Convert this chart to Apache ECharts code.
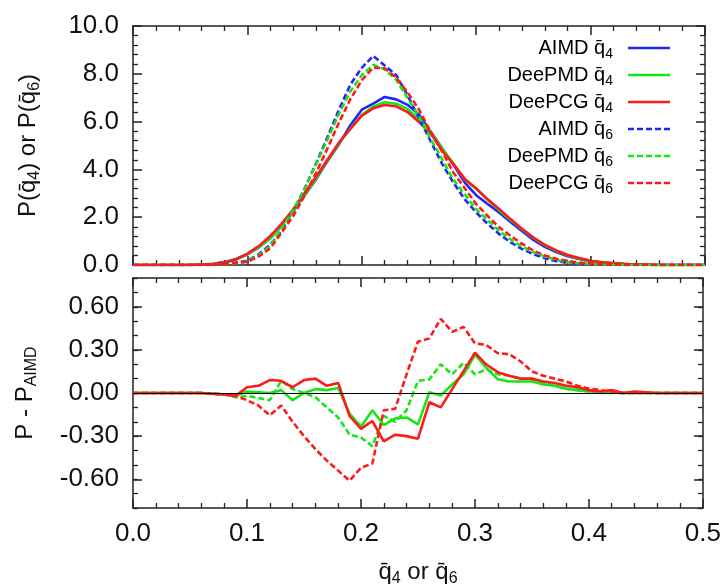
<!DOCTYPE html>
<html>
<head>
<meta charset="utf-8">
<script src="https://cdn.jsdelivr.net/npm/echarts@6/dist/echarts.min.js"></script>
<style>html,body{margin:0;padding:0;background:#fff;}#c{width:724px;height:588px;}</style>
</head>
<body>
<div id="c"></div>
<script>
// ---- data ----
const q = [0.00,0.01,0.02,0.03,0.04,0.05,0.06,0.07,0.08,0.09,0.10,0.11,0.12,0.13,0.14,0.15,0.16,0.17,0.18,0.19,0.20,0.21,0.22,0.23,0.24,0.25,0.26,0.27,0.28,0.29,0.30,0.31,0.32,0.33,0.34,0.35,0.36,0.37,0.38,0.39,0.40,0.41,0.42,0.43,0.44,0.45,0.46,0.47,0.48,0.49,0.50];

const aimdQ4   = [0,0,0,0,0,0,0.02,0.05,0.12,0.25,0.44,0.74,1.12,1.65,2.28,2.92,3.58,4.35,5.05,5.85,6.5,6.75,7.03,6.93,6.7,6.3,5.6,4.9,4.2,3.45,2.92,2.55,2.2,1.8,1.42,1.05,0.76,0.54,0.37,0.25,0.16,0.10,0.06,0.04,0.02,0.01,0,0,0,0,0];
const deepmdQ4 = [0,0,0,0,0,0,0.02,0.045,0.11,0.23,0.45,0.745,1.12,1.67,2.23,2.92,3.61,4.37,5.085,5.71,6.27,6.63,6.81,6.75,6.53,6.08,5.605,4.88,4.26,3.58,3.19,2.725,2.295,1.88,1.50,1.13,0.82,0.59,0.40,0.27,0.17,0.11,0.065,0.04,0.02,0.01,0,0,0,0,0];
const deepcgQ4 = [0,0,0,0,0,0,0.02,0.045,0.11,0.23,0.48,0.79,1.21,1.735,2.32,3.01,3.68,4.40,5.12,5.69,6.25,6.555,6.694,6.64,6.40,5.982,5.536,4.80,4.227,3.602,3.20,2.748,2.345,1.92,1.52,1.15,0.84,0.61,0.42,0.29,0.18,0.11,0.08,0.04,0.03,0.015,0,0,0,0,0];
const aimdQ6   = [0,0,0,0,0,0,0,0.01,0.04,0.10,0.18,0.45,0.85,1.45,2.25,3.2,4.25,5.35,6.5,7.55,8.25,8.75,8.35,7.95,7.1,6.15,5.2,4.25,3.45,2.75,2.2,1.72,1.3,0.95,0.67,0.45,0.28,0.16,0.09,0.05,0.03,0.01,0,0,0,0,0,0,0,0,0];
const deepmdQ6 = [0,0,0,0,0,0,0,0.005,0.03,0.07,0.16,0.415,0.80,1.534,2.277,3.20,4.22,5.25,6.33,7.26,7.94,8.38,8.19,7.75,6.98,6.234,5.295,4.45,3.58,2.96,2.33,1.885,1.43,1.07,0.77,0.54,0.35,0.21,0.12,0.07,0.04,0.01,0,0,0,0,0,0,0,0,0];
const deepcgQ6 = [0,0,0,0,0,0,0,0.005,0.03,0.08,0.13,0.363,0.695,1.363,2.05,2.90,3.86,4.88,5.96,6.94,7.73,8.26,8.23,7.84,7.23,6.507,5.58,4.766,3.875,3.21,2.545,2.054,1.577,1.22,0.89,0.60,0.40,0.26,0.17,0.10,0.06,0.03,0.01,0,0,0,0,0,0,0,0];

const diffDeepmdQ4 = [0,0,0,0,0,0,0,-0.005,-0.01,-0.02,0.01,0.005,0.0,0.02,-0.05,0.0,0.027,0.02,0.035,-0.143,-0.234,-0.12,-0.223,-0.177,-0.17,-0.218,0.005,-0.018,0.06,0.13,0.266,0.175,0.095,0.08,0.08,0.08,0.06,0.05,0.03,0.02,0.01,0.01,0.005,0,0,0,0,0,0,0,0];
const diffDeepcgQ4 = [0,0,0,0,0,0,0,-0.005,-0.01,-0.02,0.04,0.05,0.09,0.085,0.04,0.09,0.10,0.05,0.07,-0.16,-0.25,-0.195,-0.336,-0.29,-0.30,-0.318,-0.064,-0.10,0.027,0.152,0.28,0.198,0.145,0.12,0.10,0.10,0.08,0.07,0.05,0.04,0.02,0.01,0.02,0.0,0.01,0.005,0,0,0,0,0];
const diffDeepmdQ6 = [0,0,0,0,0,0,0,-0.005,-0.01,-0.03,-0.02,-0.035,-0.05,0.084,0.027,0.0,-0.03,-0.1,-0.17,-0.29,-0.31,-0.37,-0.16,-0.2,-0.12,0.084,0.095,0.2,0.13,0.21,0.13,0.165,0.13,0.12,0.1,0.09,0.07,0.05,0.03,0.02,0.01,0,0,0,0,0,0,0,0,0,0];
const diffDeepcgQ6 = [0,0,0,0,0,0,0,-0.005,-0.01,-0.02,-0.05,-0.087,-0.155,-0.087,-0.2,-0.30,-0.39,-0.47,-0.54,-0.61,-0.52,-0.49,-0.12,-0.11,0.13,0.357,0.38,0.516,0.425,0.46,0.345,0.334,0.277,0.27,0.22,0.15,0.12,0.10,0.08,0.05,0.03,0.02,0.01,0,0,0,0,0,0,0,0];

const topTicks = [0, 10, 2];            // min, max, interval
const bottomLabels = [-0.6, -0.3, 0, 0.3, 0.6];
const bottomRange = [-0.8, 0.8, 0.1];
const legendNames = ['AIMD q\u0304', 'DeePMD q\u0304', 'DeePCG q\u0304', 'AIMD q\u0304', 'DeePMD q\u0304', 'DeePCG q\u0304'];
const legendSubs = ['4','4','4','6','6','6'];

// ---- styles ----
const FONT = '"Liberation Sans", Arial, Helvetica, sans-serif';
const BLUE = '#2323ff', GREEN = '#16e616', RED = '#ff1a1a';
const AX = '#222';
const DASH = [6, 3];
const LW = 2.6;

function rich(main, sub, lh) {
  return {
    n: {fontSize: main, fontFamily: FONT, color: '#111', lineHeight: lh},
    s: {fontSize: sub, fontFamily: FONT, color: '#111', verticalAlign: 'bottom', lineHeight: sub}
  };
}

function xAx(grid, pos, labels, extra) {
  return Object.assign({
    type: 'value', gridIndex: grid, position: pos, min: 0, max: 0.5, interval: 0.1,
    axisLine: {show: true, onZero: false, lineStyle: {color: AX, width: 1.5}},
    axisTick: {show: true, inside: true, length: 9, lineStyle: {color: AX, width: 1.5}},
    minorTick: {show: true, splitNumber: 5, length: 5, lineStyle: {color: AX, width: 1.3}},
    axisLabel: labels ? {show: true, formatter: v => v.toFixed(1), fontSize: 26, fontFamily: FONT, color: '#111', margin: 13} : {show: false},
    splitLine: {show: false}, minorSplitLine: {show: false}
  }, extra || {});
}

const yAxes = [
  {
    type: 'value', gridIndex: 0, position: 'left', min: topTicks[0], max: topTicks[1], interval: topTicks[2],
    axisLine: {show: true, onZero: false, lineStyle: {color: AX, width: 1.5}},
    axisTick: {show: true, inside: true, length: 9, lineStyle: {color: AX, width: 1.5}},
    minorTick: {show: true, splitNumber: 5, length: 5, lineStyle: {color: AX, width: 1.3}},
    axisLabel: {show: true, formatter: v => v.toFixed(1), fontSize: 26, fontFamily: FONT, color: '#111', margin: 14},
    splitLine: {show: false},
    name: '{n|P(q\u0304}{s|4}{n|) or P(q\u0304}{s|6}{n|)}',
    nameLocation: 'middle', nameGap: 90,
    nameTextStyle: {rich: rich(24, 16, 30)}
  },
  {
    type: 'value', gridIndex: 0, position: 'right', min: topTicks[0], max: topTicks[1], interval: topTicks[2],
    axisLine: {show: true, onZero: false, lineStyle: {color: AX, width: 1.5}},
    axisTick: {show: true, inside: true, length: 9, lineStyle: {color: AX, width: 1.5}},
    minorTick: {show: true, splitNumber: 5, length: 5, lineStyle: {color: AX, width: 1.3}},
    axisLabel: {show: false}, splitLine: {show: false}
  },
  {
    type: 'value', gridIndex: 1, position: 'left', min: bottomRange[0], max: bottomRange[1], interval: bottomRange[2],
    axisLine: {show: true, onZero: false, lineStyle: {color: AX, width: 1.5}},
    axisTick: {show: true, inside: true, length: 9, customValues: bottomLabels, lineStyle: {color: AX, width: 1.5}},
    axisLabel: {show: true, customValues: bottomLabels, formatter: v => v.toFixed(2), fontSize: 26, fontFamily: FONT, color: '#111', margin: 14},
    splitLine: {show: false},
    name: '{n|P - P}{s|AIMD}',
    nameLocation: 'middle', nameGap: 93,
    nameTextStyle: {rich: rich(24, 16, 30)}
  },
  {
    type: 'value', gridIndex: 1, position: 'left', min: bottomRange[0], max: bottomRange[1], interval: bottomRange[2],
    axisLine: {show: false, onZero: false},
    axisTick: {show: true, inside: true, length: 5, lineStyle: {color: AX, width: 1.3}},
    axisLabel: {show: false}, splitLine: {show: false}
  },
  {
    type: 'value', gridIndex: 1, position: 'right', min: bottomRange[0], max: bottomRange[1], interval: bottomRange[2],
    axisLine: {show: true, onZero: false, lineStyle: {color: AX, width: 1.5}},
    axisTick: {show: true, inside: true, length: 9, customValues: bottomLabels, lineStyle: {color: AX, width: 1.5}},
    axisLabel: {show: false}, splitLine: {show: false}
  },
  {
    type: 'value', gridIndex: 1, position: 'right', min: bottomRange[0], max: bottomRange[1], interval: bottomRange[2],
    axisLine: {show: false, onZero: false},
    axisTick: {show: true, inside: true, length: 5, lineStyle: {color: AX, width: 1.3}},
    axisLabel: {show: false}, splitLine: {show: false}
  }
];

const xAxes = [
  xAx(0, 'bottom', false),
  xAx(0, 'top', false),
  xAx(1, 'bottom', true, {
    name: '{n|q\u0304}{s|4}{n| or q\u0304}{s|6}',
    nameLocation: 'middle', nameGap: 49,
    nameTextStyle: {rich: rich(24, 16, 30)}
  }),
  xAx(1, 'top', false)
];

function pts(arr) { return q.map((x, i) => [x, arr[i]]); }
function ser(name, arr, color, dashed, xi, yi, extra) {
  return Object.assign({
    name: name, type: 'line', xAxisIndex: xi, yAxisIndex: yi, data: pts(arr),
    symbol: 'none', showSymbol: false, smooth: false,
    lineStyle: {color: color, width: LW, type: dashed ? DASH : 'solid'},
    itemStyle: {color: color}
  }, extra || {});
}

const series = [
  ser('AIMD q4', aimdQ4, BLUE, false, 0, 0),
  ser('DeePMD q4', deepmdQ4, GREEN, false, 0, 0),
  ser('DeePCG q4', deepcgQ4, RED, false, 0, 0),
  ser('AIMD q6', aimdQ6, BLUE, true, 0, 0),
  ser('DeePMD q6', deepmdQ6, GREEN, true, 0, 0),
  ser('DeePCG q6', deepcgQ6, RED, true, 0, 0),
  ser('DeePMD q4 diff', diffDeepmdQ4, GREEN, false, 2, 2, {
    markLine: {silent: true, symbol: 'none', label: {show: false}, animation: false,
      lineStyle: {color: '#000', width: 1.2, type: 'solid'}, data: [{yAxis: 0}]}
  }),
  ser('DeePMD q6 diff', diffDeepmdQ6, GREEN, true, 2, 2),
  ser('DeePCG q4 diff', diffDeepcgQ4, RED, false, 2, 2),
  ser('DeePCG q6 diff', diffDeepcgQ6, RED, true, 2, 2)
];

const legendColors = [BLUE, GREEN, RED, BLUE, GREEN, RED];
const legendDashed = [false, false, false, true, true, true];
const legendEls = [];
for (let i = 0; i < legendNames.length; i++) {
  const y = 48 + i * 27;
  legendEls.push({
    type: 'text', x: 613, y: y,
    style: {text: '{n|' + legendNames[i] + '}{s|' + legendSubs[i] + '}', rich: rich(20, 14, 26),
      align: 'right', verticalAlign: 'middle'}
  });
  legendEls.push({
    type: 'line', shape: {x1: 628, y1: y, x2: 670, y2: y},
    style: {stroke: legendColors[i], lineWidth: LW, lineDash: legendDashed[i] ? DASH : null}
  });
}

const chart = echarts.init(document.getElementById('c'), null, {renderer: 'canvas'});
chart.setOption({
  animation: false,
  backgroundColor: '#fff',
  grid: [
    {left: 133, right: 19, top: 26, height: 239},
    {left: 133, right: 19, top: 278, height: 234}
  ],
  xAxis: xAxes,
  yAxis: yAxes,
  series: series,
  graphic: legendEls
});
</script>
</body>
</html>
